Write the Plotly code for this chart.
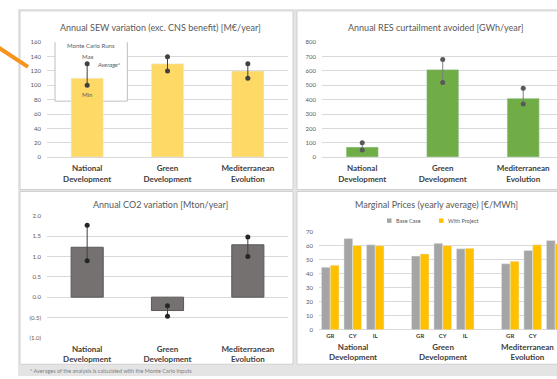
import plotly.graph_objects as go

W, H = 557, 379

# ---------------- data ----------------
scenarios = ["National<br>Development", "Green<br>Development", "Mediterranean<br>Evolution"]

sew_avg = [110, 130, 120]
sew_max = [130, 140, 130]
sew_min = [100, 120, 110]

res_avg = [70, 610, 410]
res_max = [100, 680, 480]
res_min = [50, 520, 370]

co2_avg = [1.23, -0.33, 1.29]
co2_max = [1.77, -0.21, 1.48]
co2_min = [0.90, -0.47, 1.00]
co2_tickvals = [-1.0, -0.5, 0.0, 0.5, 1.0, 1.5, 2.0]
co2_ticktext = ["(1.0)", "(0.5)", "0.0", "0.5", "1.0", "1.5", "2.0"]

countries = ["GR", "CY", "IL"]
price_base = [[44.5, 65.0, 60.5], [52.5, 61.5, 57.7], [47.0, 56.5, 63.5]]
price_project = [[46.0, 60.0, 59.8], [54.0, 60.0, 58.0], [48.8, 60.5, 61.2]]

titles = [
    "Annual SEW variation (exc. CNS benefit) [M€/year]",
    "Annual RES curtailment avoided [GWh/year]",
    "Annual CO2 variation [Mton/year]",
    "Marginal Prices (yearly average) [€/MWh]",
]
footnote = "* Averages of the analysis is calculated with the Monte Carlo Inputs"

# ---------------- helpers ----------------
FONT = "Lato"
GRID = "#d9d9d9"
TXT = "#595959"


def px(x):
    return x / W


def py(y):
    return 1 - y / H


def whisker(cats, lo, hi):
    xs, ys = [], []
    for c, a, b in zip(cats, lo, hi):
        xs += [c, c, None]
        ys += [a, b, None]
    return xs, ys


fig = go.Figure()

# SEW
fig.add_trace(go.Bar(x=scenarios, y=sew_avg, width=0.4, marker_color="#FFD966",
                     xaxis="x", yaxis="y", showlegend=False))
wx, wy = whisker(scenarios, sew_min, sew_max)
fig.add_trace(go.Scatter(x=wx, y=wy, mode="lines+markers", xaxis="x", yaxis="y",
                         line=dict(color="#404040", width=1),
                         marker=dict(color="#404040", size=5), showlegend=False))

# RES
fig.add_trace(go.Bar(x=scenarios, y=res_avg, width=0.4, marker_color="#70AD47",
                     xaxis="x2", yaxis="y2", showlegend=False))
wx, wy = whisker(scenarios, res_min, res_max)
fig.add_trace(go.Scatter(x=wx, y=wy, mode="lines+markers", xaxis="x2", yaxis="y2",
                         line=dict(color="#7f7f7f", width=1),
                         marker=dict(color="#595959", size=5), showlegend=False))

# CO2
fig.add_trace(go.Bar(x=scenarios, y=co2_avg, width=0.4, marker_color="#767171",
                     marker_line=dict(color="#595959", width=1),
                     xaxis="x3", yaxis="y3", showlegend=False))
wx, wy = whisker(scenarios, co2_min, co2_max)
fig.add_trace(go.Scatter(x=wx, y=wy, mode="lines+markers", xaxis="x3", yaxis="y3",
                         line=dict(color="#404040", width=1),
                         marker=dict(color="#262626", size=5), showlegend=False))

# Marginal prices (grouped, with an empty slot between scenarios)
slots = [g * 4 + c for g in range(len(scenarios)) for c in range(len(countries))]
base_flat = [v for row in price_base for v in row]
proj_flat = [v for row in price_project for v in row]
fig.add_trace(go.Bar(x=slots, y=base_flat, name="Base Case", marker_color="#A5A5A5",
                     xaxis="x4", yaxis="y4", showlegend=False))
fig.add_trace(go.Bar(x=slots, y=proj_flat, name="With Project", marker_color="#FFC000",
                     xaxis="x4", yaxis="y4", showlegend=False))

tickfont = dict(family=FONT, size=6, color=TXT)
catfont = dict(family=FONT, size=8, color="#404040", weight="bold")

common_y = dict(showgrid=True, gridcolor=GRID, gridwidth=1, zeroline=True, zerolinecolor=GRID,
                zerolinewidth=1, showline=False, ticks="", tickfont=tickfont, ticklabelstandoff=5)
common_x = dict(showgrid=False, zeroline=False, showline=False, ticks="", tickfont=catfont,
                ticklabelstandoff=5)

top_dom = [py(156), py(39)]
bot_dom = [py(340), py(216)]
mp_dom = [py(332), py(231.7)]

fig.update_layout(
    width=W, height=H, margin=dict(l=0, r=0, t=0, b=0),
    paper_bgcolor="white", plot_bgcolor="rgba(0,0,0,0)",
    barmode="group", bargap=0.22, bargroupgap=0,
    font=dict(family=FONT, color=TXT),
    xaxis=dict(domain=[px(47), px(288)], anchor="y", type="category", range=[-0.5, 2.5], **common_x),
    yaxis=dict(domain=top_dom, anchor="x", range=[0, 160], dtick=20, **common_y),
    xaxis2=dict(domain=[px(322), 1.0], anchor="y2", type="category", range=[-0.5, 2.42], **common_x),
    yaxis2=dict(domain=top_dom, anchor="x2", range=[0, 800], dtick=100, **common_y),
    xaxis3=dict(domain=[px(47), px(288)], anchor="y3", type="category", range=[-0.5, 2.5], **common_x),
    yaxis3=dict(domain=bot_dom, anchor="x3", range=[-1.0, 2.0], tickvals=co2_tickvals,
                ticktext=co2_ticktext, **common_y),
    xaxis4=dict(domain=[px(319), 1.0], anchor="y4", range=[-0.5, 10.08],
                tickvals=slots, ticktext=countries * len(scenarios),
                showgrid=False, zeroline=False, showline=False, ticks="",
                tickfont=dict(family=FONT, size=6, color="#404040", weight="bold"),
                ticklabelstandoff=1),
    yaxis4=dict(domain=mp_dom, anchor="x4", range=[0, 70], dtick=10, **common_y),
)

# ---------------- panels / decorations ----------------
shapes = []
shapes.append(dict(type="rect", xref="paper", yref="paper", x0=px(18), x1=1.02, y0=py(379), y1=py(5),
                   fillcolor="#e4e4e4", line=dict(width=0), layer="below"))
for (x0, y0, x1, y1) in [(20, 7, 293, 189), (297, 7, 575, 189), (20, 191, 293, 367), (297, 191, 575, 367)]:
    shapes.append(dict(type="rect", xref="paper", yref="paper", x0=px(x0), x1=px(x1), y0=py(y1), y1=py(y0),
                       fillcolor="white", line=dict(color="#d0d0d0", width=1), layer="below"))
# orange pointer line
shapes.append(dict(type="line", xref="paper", yref="paper", x0=px(-2), y0=py(44), x1=px(28), y1=py(64),
                   line=dict(color="#F7941D", width=4)))
# Monte Carlo inset box (between gridlines and bars), in category-index units of the SEW subplot
shapes.append(dict(type="rect", xref="x", yref="y",
                   x0=(55 - 87) / 80, x1=(127 - 87) / 80,
                   y0=(156 - 99) / 117 * 160, y1=(156 - 34) / 117 * 160,
                   fillcolor="white", line=dict(color="#bfbfbf", width=1), layer="between"))
# manual legend squares for marginal prices
shapes.append(dict(type="rect", xref="paper", yref="paper", x0=px(387), x1=px(391.5), y0=py(223), y1=py(218.5),
                   fillcolor="#A5A5A5", line=dict(width=0)))
shapes.append(dict(type="rect", xref="paper", yref="paper", x0=px(439), x1=px(443.5), y0=py(223), y1=py(218.5),
                   fillcolor="#FFC000", line=dict(width=0)))
fig.update_layout(shapes=shapes)

ann = []
for t, (cx, cy) in zip(titles, [(160, 24), (436, 24), (160, 204), (436, 204)]):
    ann.append(dict(text=t, x=px(cx), y=py(cy), xref="paper", yref="paper", showarrow=False,
                    xanchor="center", yanchor="middle", font=dict(family=FONT, size=9, color=TXT)))
# inset texts
inset_font = dict(family=FONT, size=6, color=TXT)
for txt, cx, cy, xa in [("Monte Carlo Runs", 91, 42, "center"), ("Max", 87, 53, "center"),
                        ("<i>Average*</i>", 95, 62, "left"), ("Min", 87, 92, "center")]:
    ann.append(dict(text=txt, x=(cx - 47) / 241, y=(156 - cy) / 117, xref="x domain",
                    yref="y domain", showarrow=False, xanchor=xa, yanchor="middle", font=inset_font))
# legend texts
ann.append(dict(text="Base Case", x=px(394), y=py(221), xref="paper", yref="paper", showarrow=False,
                xanchor="left", yanchor="middle", font=dict(family=FONT, size=5.5, color=TXT)))
ann.append(dict(text="With Project", x=px(446), y=py(221), xref="paper", yref="paper", showarrow=False,
                xanchor="left", yanchor="middle", font=dict(family=FONT, size=5.5, color=TXT)))
# scenario labels under marginal price chart (last one nudged to stay inside the page)
for g, s in enumerate(scenarios):
    ann.append(dict(text=s, x=g * 4 + 1, y=py(355), xref="x4", yref="paper", showarrow=False,
                    xanchor="center", yanchor="middle", font=catfont,
                    xshift=-5 if g == len(scenarios) - 1 else 0))
# footnote
ann.append(dict(text=footnote, x=px(28), y=py(374), xref="paper", yref="paper", showarrow=False,
                xanchor="left", yanchor="middle", font=dict(family=FONT, size=5.5, color="#7f7f7f")))
fig.update_layout(annotations=ann)

fig.write_html("out.html")
